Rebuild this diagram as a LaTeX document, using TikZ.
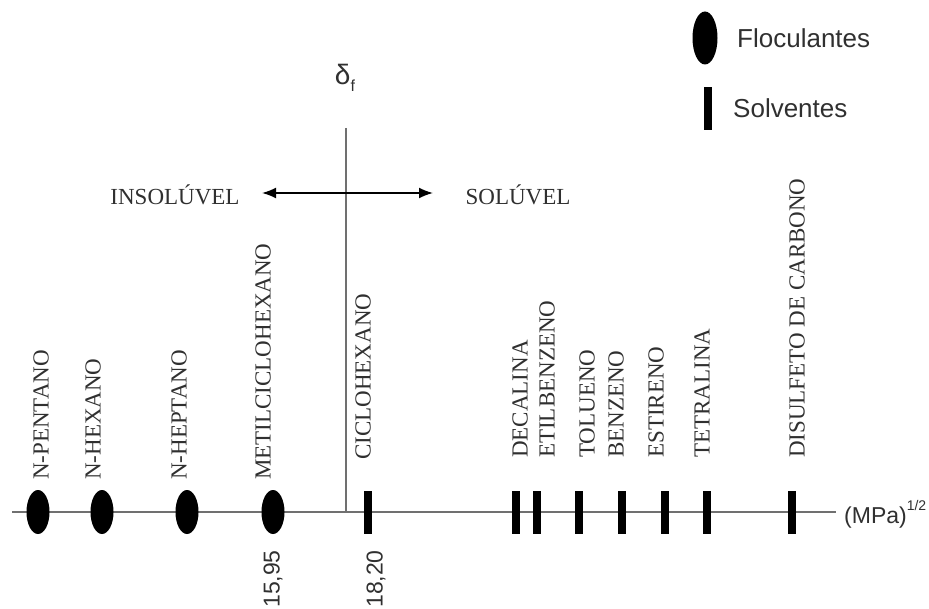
\documentclass[tikz,border=0pt]{standalone}
\usepackage{fontspec}
\setmainfont{Liberation Serif}
\newfontfamily\arialfont{Liberation Sans}
\usetikzlibrary{shapes.geometric,arrows.meta}
\definecolor{txt}{HTML}{303030}
\definecolor{axisgray}{HTML}{707070}
\tikzset{
  floc/.style={ellipse,fill=black,inner sep=0pt,minimum width=23pt,minimum height=44pt},
  solv/.style={rectangle,fill=black,inner sep=0pt,minimum width=8pt,minimum height=43pt},
  vlabel/.style={rotate=90,anchor=west,inner sep=0pt,text=txt,font=\fontsize{23}{27}\selectfont},
  numlabel/.style={rotate=90,anchor=east,inner sep=0pt,text=txt,font=\arialfont\fontsize{23}{27}\selectfont},
  hlabel/.style={inner sep=0pt,text=txt,font=\fontsize{23}{27}\selectfont},
  leglabel/.style={anchor=west,inner sep=0pt,text=txt,font=\arialfont\fontsize{26}{30}\selectfont},
  axisline/.style={draw=axisgray,line width=1.5pt},
  dirarrow/.style={draw=black,line width=1.7pt,{Latex[length=14pt,width=11pt]}-{Latex[length=14pt,width=11pt]}}
}
\begin{document}
\begin{tikzpicture}[x=1pt,y=-1pt]
\useasboundingbox (0,0) rectangle (929,609);
% axis
\coordinate (axL) at (12,512);
\coordinate (axR) at (836,512);
\draw[axisline] (axL) -- (axR);
\node[anchor=west,inner sep=0pt,text=txt,font=\arialfont\fontsize{23}{27}\selectfont] (unit) at (844,514) {(MPa)\raisebox{0.55em}{\fontsize{14}{16}\selectfont 1/2}};
% vertical divider
\coordinate (vT) at (346,128);
\coordinate (vB) at (346,512);
\draw[axisline] (vT) -- (vB);
\node[inner sep=0pt,text=txt,font=\arialfont\fontsize{28}{32}\selectfont] (delta) at (345,78) {δ\raisebox{-0.25em}{\fontsize{16}{18}\selectfont f}};
% direction arrow
\coordinate (arL) at (262,193);
\coordinate (arR) at (433,193);
\draw[dirarrow] (arL) -- (arR);
\node[hlabel] (insol) at (175,195) {INSOLÚVEL};
\node[hlabel] (sol) at (518,195) {SOLÚVEL};
% flocculants
\node[floc] (pent) at (38,512) {};
\node[floc] (hex) at (102,512) {};
\node[floc] (hept) at (187,512) {};
\node[floc] (metil) at (273,512) {};
% solvents
\node[solv] (ciclo) at (368,512) {};
\node[solv] (deca) at (516,512) {};
\node[solv] (etil) at (537,512) {};
\node[solv] (tolu) at (579,512) {};
\node[solv] (benz) at (622,512) {};
\node[solv] (esti) at (665,512) {};
\node[solv] (tetra) at (707,512) {};
\node[solv] (disu) at (792,512) {};
% labels
\node[vlabel] (lpent) at (41,480) {N-PENTANO};
\node[vlabel] (lhex) at (93,480) {N-HEXANO};
\node[vlabel] (lhept) at (179,480) {N-HEPTANO};
\node[vlabel] (lmetil) at (263,480) {METILCICLOHEXANO};
\node[vlabel] (lciclo) at (363,460) {CICLOHEXANO};
\node[vlabel] (ldeca) at (520,458) {DECALINA};
\node[vlabel] (letil) at (547,458) {ETILBENZENO};
\node[vlabel] (ltolu) at (587,458) {TOLUENO};
\node[vlabel] (lbenz) at (616,458) {BENZENO};
\node[vlabel] (lesti) at (656,458) {ESTIRENO};
\node[vlabel] (ltetra) at (702,458) {TETRALINA};
\node[vlabel] (ldisu) at (797,458) {DISULFETO DE CARBONO};
% values
\node[numlabel] (v1) at (273,550) {15,95};
\node[numlabel] (v2) at (376,550) {18,20};
% legend
\node[floc,minimum width=25pt,minimum height=53pt] (legF) at (705,38) {};
\node[leglabel] (legFt) at (737,38) {Floculantes};
\node[solv] (legS) at (708,109) {};
\node[leglabel] (legSt) at (733,108) {Solventes};
\end{tikzpicture}
\end{document}
